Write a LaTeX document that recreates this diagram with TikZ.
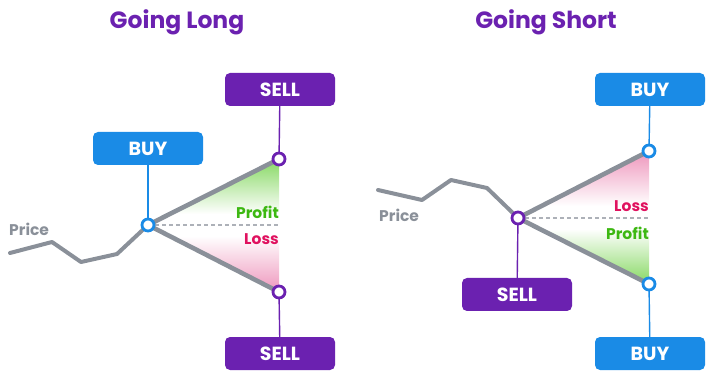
\documentclass[tikz,border=0pt]{standalone}
\usepackage{fontspec}
\setmainfont{Poppins}
\definecolor{vio}{HTML}{6B21B0}
\definecolor{blu}{HTML}{1A8BE6}
\definecolor{gry}{HTML}{8A9099}
\definecolor{grn}{HTML}{3DB812}
\definecolor{red}{HTML}{E0115F}
\definecolor{gshade}{HTML}{86D862}
\definecolor{pshade}{HTML}{EE96BC}
\tikzset{
  box/.style={fill=#1, rounded corners=5pt, minimum width=110pt, minimum height=33pt, inner sep=0pt, text=white, font=\bfseries\fontsize{19}{19}\selectfont},
  ring/.style={circle, draw=#1, line width=2.8pt, fill=white, minimum size=12pt, inner sep=0pt},
  conn/.style={draw=#1, line width=1.4pt},
  priceline/.style={draw=gry, line width=4pt, line join=round, line cap=round},
  leg/.style={draw=gry, line width=4.6pt, line cap=round},
  dashln/.style={draw=gry!70, line width=1.2pt, dash pattern=on 4pt off 3pt},
  ttl/.style={text=vio, font=\bfseries\fontsize{23.5}{24}\selectfont},
  lbl/.style={font=\bfseries\fontsize{15.5}{16}\selectfont, inner sep=0pt},
}
\begin{document}
\begin{tikzpicture}[x=1pt,y=-1pt]
\useasboundingbox (0,0) rectangle (710,390);
% ---------- Going Long ----------
\node[ttl] (tL) at (177,22) {Going Long};
\coordinate (L0) at (148,225);
\coordinate (L1) at (279,159);
\coordinate (L2) at (279,292);
\coordinate (Lm) at (279,225);
\begin{scope}
  \clip (L0) -- (L1) -- (Lm) -- cycle;
  \shade[top color=gshade, bottom color=white] (148,159) rectangle (279,214);
\end{scope}
\begin{scope}
  \clip (L0) -- (L2) -- (Lm) -- cycle;
  \shade[top color=white, bottom color=pshade] (148,236) rectangle (279,292);
\end{scope}
\draw[dashln] (L0) -- (Lm);
\coordinate (p1) at (10,253);
\coordinate (p2) at (52,242);
\coordinate (p3) at (81,262);
\coordinate (p4) at (117,254);
\draw[priceline] (p1) -- (p2) -- (p3) -- (p4) -- (L0);
\draw[leg] (L0) -- (L1);
\draw[leg] (L0) -- (L2);
\node[box=vio] (sL1) at (280,89.5) {SELL};
\node[box=blu] (bL) at (148,148.5) {BUY};
\node[box=vio] (sL2) at (280,353.5) {SELL};
\draw[conn=vio] (sL1) -- (L1);
\draw[conn=vio] (sL2) -- (L2);
\draw[conn=blu] (bL) -- (L0);
\node[ring=blu] (cL0) at (L0) {};
\node[ring=vio] (cL1) at (L1) {};
\node[ring=vio] (cL2) at (L2) {};
\node[lbl, text=gry, anchor=west] (prL) at (9,229) {Price};
\node[lbl, text=grn, anchor=east] (pfL) at (279,212) {Profit};
\node[lbl, text=red, anchor=east] (lsL) at (279,239) {Loss};
% ---------- Going Short ----------
\node[ttl] (tS) at (546,22) {Going Short};
\coordinate (S0) at (518,218);
\coordinate (S1) at (649,151);
\coordinate (S2) at (649,284);
\coordinate (Sm) at (649,218);
\begin{scope}
  \clip (S0) -- (S1) -- (Sm) -- cycle;
  \shade[top color=pshade, bottom color=white] (518,151) rectangle (649,206);
\end{scope}
\begin{scope}
  \clip (S0) -- (S2) -- (Sm) -- cycle;
  \shade[top color=white, bottom color=gshade] (518,229) rectangle (649,284);
\end{scope}
\draw[dashln] (S0) -- (Sm);
\coordinate (q1) at (378,190);
\coordinate (q2) at (422,200);
\coordinate (q3) at (451,180);
\coordinate (q4) at (487,188);
\draw[priceline] (q1) -- (q2) -- (q3) -- (q4) -- (S0);
\draw[leg] (S0) -- (S1);
\draw[leg] (S0) -- (S2);
\node[box=blu] (bS1) at (650,89.5) {BUY};
\node[box=vio] (sS) at (517,294.5) {SELL};
\node[box=blu] (bS2) at (650,353.5) {BUY};
\draw[conn=blu] (bS1) -- (S1);
\draw[conn=blu] (bS2) -- (S2);
\draw[conn=vio] (sS) -- (S0);
\node[ring=vio] (cS0) at (S0) {};
\node[ring=blu] (cS1) at (S1) {};
\node[ring=blu] (cS2) at (S2) {};
\node[lbl, text=gry, anchor=west] (prS) at (379,215) {Price};
\node[lbl, text=red, anchor=east] (lsS) at (649,206) {Loss};
\node[lbl, text=grn, anchor=east] (pfS) at (649,233) {Profit};
\end{tikzpicture}
\end{document}
